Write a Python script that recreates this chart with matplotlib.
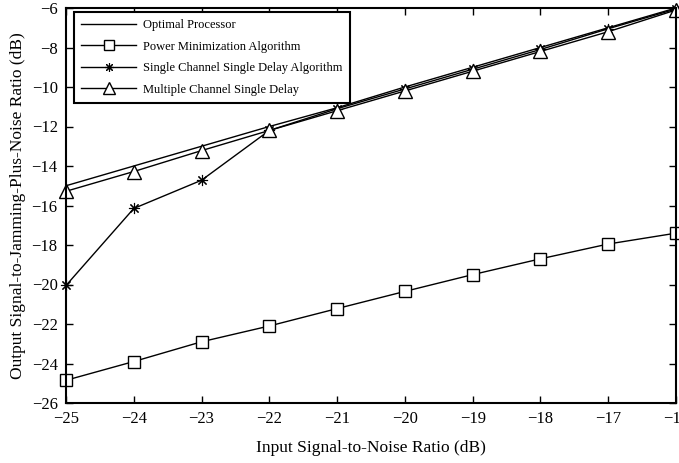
import numpy as np
import matplotlib
matplotlib.use("Agg")
from matplotlib import pyplot as plt

snr_in = [-25, -24, -23, -22, -21, -20, -19, -18, -17, -16]
optimal = [-15.0, -14.0, -13.0, -12.0, -11.05, -10.0, -9.0, -8.0, -7.0, -6.0]
power_min = [-24.85, -23.9, -22.9, -22.1, -21.22, -20.35, -19.5, -18.7, -17.95, -17.4]
single_ch = [-20.05, -16.15, -14.72, -12.2, -11.1, -10.1, -9.1, -8.1, -7.05, -6.05]
multi_ch = [-15.28, -14.28, -13.22, -12.2, -11.2, -10.2, -9.2, -8.2, -7.2, -6.1]

labels = ["Optimal Processor", "Power Minimization Algorithm",
          "Single Channel Single Delay Algorithm", "Multiple Channel Single Delay"]

plt.rcParams['font.family'] = ['Liberation Serif', 'DejaVu Serif']
plt.rcParams['mathtext.fontset'] = 'stix'

fig = plt.figure(figsize=(6.79, 4.63), dpi=100)
ax = fig.add_axes([66 / 679, 1 - 403 / 463, 610 / 679, 395 / 463])

kw = dict(color='black', lw=1.0, clip_on=False)
ax.plot(snr_in, optimal, label=labels[0], **kw)
ax.plot(snr_in, power_min, marker='s', ms=9, mfc='white', mec='black', mew=1.0,
        label=labels[1], **kw)
ax.plot(snr_in, single_ch, marker=(8, 2, 0), ms=8, mec='black', mew=0.8,
        label=labels[2], **kw)
ax.plot(snr_in, multi_ch, marker='^', ms=10, mfc='white', mec='black', mew=1.0,
        label=labels[3], **kw)

ax.set_xlim(-25, -16)
ax.set_ylim(-26, -6)
ax.set_xticks(np.arange(-25, -15, 1))
ax.set_yticks(np.arange(-26, -5, 2))
ax.tick_params(direction='in', top=True, right=True, length=5, width=1.0,
               labelsize=12, pad=6)
for s in ax.spines.values():
    s.set_linewidth(1.5)

ax.set_xlabel("Input Signal-to-Noise Ratio (dB)", fontsize=12.5, labelpad=9)
ax.set_ylabel("Output Signal-to-Jamming-Plus-Noise Ratio (dB)", fontsize=12.5, labelpad=4)

leg = ax.legend(loc='upper left', bbox_to_anchor=(0.013, 0.99), borderaxespad=0,
                fontsize=9, fancybox=False, framealpha=1, edgecolor='black',
                handlelength=4.4, labelspacing=0.75, borderpad=0.6,
                handletextpad=0.5, markerscale=0.8)
leg.get_frame().set_linewidth(1.5)

fig.savefig('out.png', dpi=100)
plt.close()
